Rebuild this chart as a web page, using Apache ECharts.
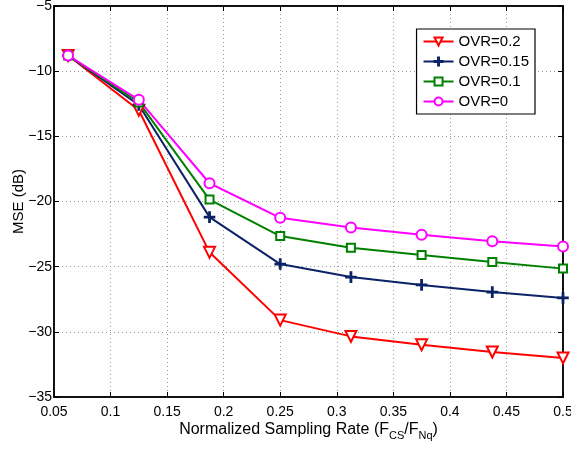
<!DOCTYPE html>
<html>
<head>
<meta charset="utf-8">
<script src="https://cdn.jsdelivr.net/npm/echarts@6/dist/echarts.min.js"></script>
<style>
  html, body { margin: 0; padding: 0; background: #fff; }
  #main { width: 571px; height: 449px; }
</style>
</head>
<body>
<div id="main"></div>
<script>
// sampling rates (x) and MSE values per overlap ratio
const rates = [0.0625, 0.125, 0.1875, 0.25, 0.3125, 0.375, 0.4375, 0.5];
const ovr02 = [-8.8, -13.0, -23.9, -29.1, -30.35, -31.0, -31.55, -32.0];
const ovr015 = [-8.8, -12.6, -21.2, -24.8, -25.8, -26.4, -26.95, -27.4];
const ovr01 = [-8.8, -12.4, -19.85, -22.65, -23.55, -24.1, -24.65, -25.15];
const ovr0 = [-8.8, -12.2, -18.6, -21.25, -22.0, -22.55, -23.05, -23.45];
const names = ['OVR=0.2', 'OVR=0.15', 'OVR=0.1', 'OVR=0'];

const pair = arr => rates.map((x, i) => [x, arr[i]]);
const minus = v => String(v).replace('-', '\u2212');
const font = 'Liberation Sans, Arial, sans-serif';
const plus = 'path://M-0.6,-5h1.2v4.4h4.4v1.2h-4.4v4.4h-1.2v-4.4h-4.4v-1.2h4.4z';

const gridLine = { show: true, lineStyle: { color: '#999', type: [1, 3], width: 1 } };

function mkSeries(name, arr, color, symbol, size, rot) {
  return {
    name: name,
    type: 'line',
    data: pair(arr),
    symbol: symbol,
    symbolSize: size,
    symbolRotate: rot || 0,
    showAllSymbol: true,
    lineStyle: { color: color, width: 2 },
    itemStyle: { color: color, borderColor: color, borderWidth: 1.6 },
    animation: false
  };
}

const option = {
  backgroundColor: '#fff',
  textStyle: { fontFamily: font },
  grid: {
    left: 54, right: 8, top: 6, bottom: 52,
    outerBoundsMode: 'none', containLabel: false,
    show: true, borderColor: '#000', borderWidth: 1.5
  },
  legend: {
    orient: 'vertical',
    right: 36,
    top: 29,
    data: names,
    itemWidth: 30,
    itemHeight: 10,
    itemGap: 5,
    padding: [5, 6, 5, 6],
    borderColor: '#000',
    borderWidth: 1.2,
    backgroundColor: '#fff',
    textStyle: { fontSize: 15, color: '#000', fontFamily: font }
  },
  xAxis: [{
    type: 'value', min: 0.05, max: 0.5, interval: 0.05,
    name: '{n|Normalized Sampling Rate (F}{s|CS}{n|/F}{s|Nq}{n|)}',
    nameLocation: 'middle', nameGap: 22, nameMoveOverlap: false,
    nameTextStyle: {
      rich: {
        n: { fontSize: 16, color: '#000', fontFamily: font },
        s: { fontSize: 11, color: '#000', fontFamily: font, padding: [11, 0, 0, 0] }
      }
    },
    axisLine: { lineStyle: { color: '#000', width: 1.5 } },
    axisTick: { inside: true, length: 5, lineStyle: { color: '#000' } },
    axisLabel: { color: '#000', fontSize: 14, margin: 8, formatter: v => String(+v.toFixed(2)) },
    splitLine: gridLine
  }, {
    type: 'value', min: 0.05, max: 0.5, interval: 0.05, position: 'top',
    axisLine: { lineStyle: { color: '#000', width: 1.5 } },
    axisTick: { inside: true, length: 5, lineStyle: { color: '#000' } },
    axisLabel: { show: false }, splitLine: { show: false }
  }],
  yAxis: [{
    type: 'value', min: -35, max: -5, interval: 5,
    name: 'MSE (dB)', nameLocation: 'middle', nameGap: 28, nameMoveOverlap: false,
    nameTextStyle: { fontSize: 15, color: '#000', fontFamily: font },
    axisLine: { lineStyle: { color: '#000', width: 1.5 } },
    axisTick: { inside: true, length: 5, lineStyle: { color: '#000' } },
    axisLabel: { color: '#000', fontSize: 14, margin: 2, formatter: minus },
    splitLine: gridLine
  }, {
    type: 'value', min: -35, max: -5, interval: 5, position: 'right',
    axisLine: { lineStyle: { color: '#000', width: 1.5 } },
    axisTick: { inside: true, length: 5, lineStyle: { color: '#000' } },
    axisLabel: { show: false }, splitLine: { show: false }
  }],
  series: [
    mkSeries(names[0], ovr02, '#ff0000', 'emptyTriangle', 11, 180),
    mkSeries(names[1], ovr015, '#0b2266', plus, 10),
    mkSeries(names[2], ovr01, '#008000', 'emptyRect', 8),
    mkSeries(names[3], ovr0, '#ff00ff', 'emptyCircle', 10)
  ]
};

const chart = echarts.init(document.getElementById('main'));
chart.setOption(option);
</script>
</body>
</html>
